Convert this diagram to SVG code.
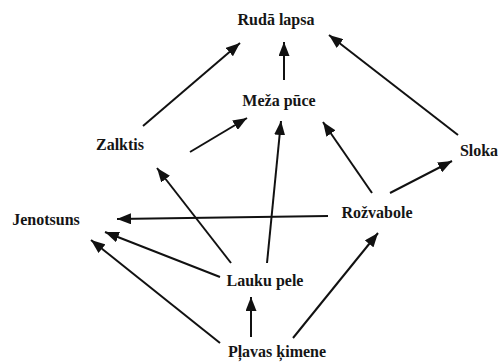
<svg xmlns="http://www.w3.org/2000/svg" width="498" height="362" viewBox="0 0 498 362">
<style>
.lbl{font-family:"Liberation Serif","Times New Roman",serif;font-weight:bold;font-size:16px;fill:#151515;text-anchor:middle}
.e{stroke:#111;stroke-width:2;fill:none;marker-end:url(#ah)}
</style>
<defs>
<marker id="ah" markerUnits="userSpaceOnUse" markerWidth="15" markerHeight="11" refX="14" refY="5.5" orient="auto">
<path d="M0,0 L14,5.5 L0,11 Z" fill="#111"/>
</marker>
</defs>
<rect width="498" height="362" fill="#fff"/>
<g id="connectors">
<line class="e" x1="143" y1="126" x2="240" y2="43"/>
<line class="e" x1="284" y1="80" x2="284" y2="42"/>
<line class="e" x1="458" y1="135" x2="329" y2="35"/>
<line class="e" x1="190" y1="152" x2="247" y2="118"/>
<line class="e" x1="267" y1="263" x2="281" y2="121"/>
<line class="e" x1="372" y1="193" x2="323" y2="122"/>
<line class="e" x1="390" y1="193" x2="452" y2="161"/>
<line class="e" x1="231" y1="263" x2="157" y2="168"/>
<line class="e" x1="328" y1="216" x2="117" y2="219"/>
<line class="e" x1="220" y1="277" x2="105" y2="232"/>
<line class="e" x1="220" y1="343" x2="91" y2="240"/>
<line class="e" x1="251" y1="337" x2="251" y2="297"/>
<line class="e" x1="293" y1="338" x2="378" y2="233"/>
</g>
<g id="ruda-lapsa"><text class="lbl" x="276" y="25">Rudā lapsa</text></g>
<g id="meza-puce"><text class="lbl" x="279" y="106">Meža pūce</text></g>
<g id="zalktis"><text class="lbl" x="120" y="150">Zalktis</text></g>
<g id="sloka"><text class="lbl" x="479" y="156">Sloka</text></g>
<g id="jenotsuns"><text class="lbl" x="46" y="225">Jenotsuns</text></g>
<g id="rozvabole"><text class="lbl" x="377" y="218">Rožvabole</text></g>
<g id="lauku-pele"><text class="lbl" x="265" y="286">Lauku pele</text></g>
<g id="plavas-kimene"><text class="lbl" x="277" y="357">Pļavas ķimene</text></g>
</svg>
